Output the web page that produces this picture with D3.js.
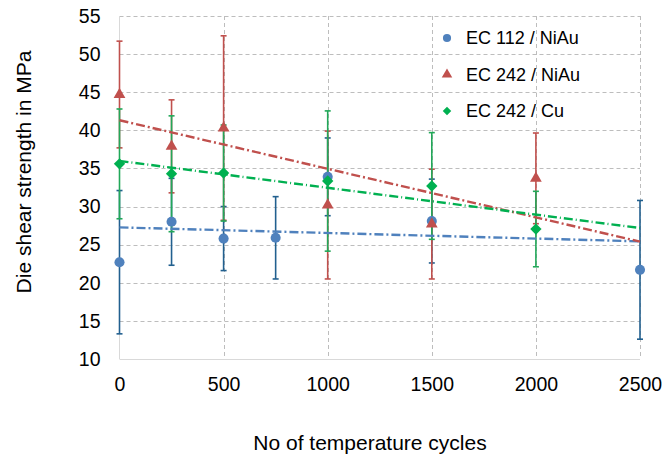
<!DOCTYPE html>
<html>
<head>
<meta charset="utf-8">
<script src="https://cdn.jsdelivr.net/npm/d3@7"></script>
<style>
  body { margin: 0; background: #fff; }
  svg { display: block; font-family: "Liberation Sans", Arial, sans-serif; }
</style>
</head>
<body>
<svg id="chart" width="664" height="459"></svg>
<script>
// cycles and mean shear strength (MPa) with error bars
var cycles112 = [0, 250, 500, 750, 1000, 1500, 2500];
var mean112 = [22.7, 28.0, 25.8, 25.9, 33.9, 28.1, 21.7];
var err112 = [9.4, 5.7, 4.2, 5.4, 5.1, 5.5, 9.1];

var cycles242 = [0, 250, 500, 1000, 1500, 2000];
var mean242Ni = [44.7, 37.9, 40.3, 30.2, 27.7, 33.7];
var err242Ni = [7.0, 6.1, 12.1, 9.7, 7.2, 5.95];
var mean242Cu = [35.6, 34.3, 34.4, 33.35, 32.7, 27.05];
var err242Cu = [7.2, 7.6, 6.3, 9.2, 7.0, 4.95];

var xTicks = [0, 500, 1000, 1500, 2000, 2500];
var yTicks = [10, 15, 20, 25, 30, 35, 40, 45, 50, 55];

var seriesNames = ["EC 112 / NiAu", "EC 242 / NiAu", "EC 242 / Cu"];

var series = [
  {name: seriesNames[0], x: cycles112, y: mean112, e: err112, color: "#4f81bd", errColor: "#22608f", symbol: "circle", dash: "9,3,2,3"},
  {name: seriesNames[1], x: cycles242, y: mean242Ni, e: err242Ni, color: "#c0504d", errColor: "#c0504d", symbol: "triangle", dash: "9,3,2,3"},
  {name: seriesNames[2], x: cycles242, y: mean242Cu, e: err242Cu, color: "#00b050", errColor: "#22a859", symbol: "diamond", dash: "9,3,1,3"}
];

var svg = d3.select("#chart");

var x = d3.scaleLinear().domain([0, 2500]).range([119.5, 640]);
var y = d3.scaleLinear().domain([10, 55]).range([359, 16]);

// grid
var grid = svg.append("g");
grid.selectAll("line.h")
  .data(yTicks.filter(function(d){ return d > 10; }))
  .enter().append("line")
  .attr("x1", x(0)).attr("x2", x(2500))
  .attr("y1", function(d){ return Math.round(y(d)) + 0.5; })
  .attr("y2", function(d){ return Math.round(y(d)) + 0.5; })
  .attr("stroke", "#bdbdbd").attr("stroke-width", 1).attr("stroke-dasharray", "4,3");
grid.selectAll("line.v")
  .data(xTicks.filter(function(d){ return d > 0; }))
  .enter().append("line")
  .attr("y1", y(55)).attr("y2", y(10))
  .attr("x1", function(d){ return Math.round(x(d)) + 0.5; })
  .attr("x2", function(d){ return Math.round(x(d)) + 0.5; })
  .attr("stroke", "#bdbdbd").attr("stroke-width", 1).attr("stroke-dasharray", "4,3");

// axes lines
svg.append("line").attr("x1", 119.5).attr("x2", 119.5).attr("y1", y(55)).attr("y2", y(10))
  .attr("stroke", "#d9d9d9").attr("stroke-width", 1);
svg.append("line").attr("x1", 119.5).attr("x2", x(2500)).attr("y1", 359.5).attr("y2", 359.5)
  .attr("stroke", "#d9d9d9").attr("stroke-width", 1);

var xAxis = svg.append("g").attr("transform", "translate(0,359)")
  .call(d3.axisBottom(x).tickValues(xTicks).tickFormat(d3.format("d")).tickSize(0).tickPadding(18));
var yAxis = svg.append("g").attr("transform", "translate(119.5,0)")
  .call(d3.axisLeft(y).tickValues(yTicks).tickFormat(d3.format("d")).tickSize(0).tickPadding(19));
[xAxis, yAxis].forEach(function(a){
  a.select(".domain").remove();
  a.selectAll("text").attr("fill", "#000").style("font-size", "19.5px")
    .style("font-family", "'Liberation Sans', Arial, sans-serif");
});

// axis titles
svg.append("text").attr("x", 370).attr("y", 450).attr("text-anchor", "middle")
  .style("font-size", "21px").text("No of temperature cycles");
svg.append("text").attr("transform", "translate(31,172) rotate(-90)").attr("text-anchor", "middle")
  .style("font-size", "21px").text("Die shear strength in MPa");

function symbolPath(type, size) {
  if (type === "circle") return d3.symbol().type(d3.symbolCircle).size(size)();
  if (type === "triangle") return d3.symbol().type(d3.symbolTriangle).size(size)();
  return d3.symbol().type(d3.symbolSquare).size(size)();
}
function symbolSize(type, legend) {
  if (type === "circle") return legend ? 52 : 80;
  if (type === "triangle") return legend ? 48 : 60;
  return legend ? 36 : 64;
}

function fit(xs, ys) {
  var mx = d3.mean(xs), my = d3.mean(ys), sxy = 0, sxx = 0;
  xs.forEach(function(v, i){ sxy += (v - mx) * (ys[i] - my); sxx += (v - mx) * (v - mx); });
  var b = sxy / sxx;
  return function(v){ return my + b * (v - mx); };
}

// error bars
series.forEach(function(s){
  var g = svg.append("g");
  s.x.forEach(function(cx, i){
    var px = x(cx), top = y(s.y[i] + s.e[i]), bot = y(s.y[i] - s.e[i]);
    g.append("line").attr("x1", px).attr("x2", px).attr("y1", top).attr("y2", bot)
      .attr("stroke", s.errColor).attr("stroke-width", 1.6);
    [top, bot].forEach(function(py){
      g.append("line").attr("x1", px - 3).attr("x2", px + 3).attr("y1", py).attr("y2", py)
        .attr("stroke", s.errColor).attr("stroke-width", 1.6);
    });
  });
});

// markers
series.forEach(function(s){
  svg.append("g").selectAll("path")
    .data(s.x.map(function(cx, i){ return [cx, s.y[i]]; }))
    .enter().append("path")
    .attr("d", symbolPath(s.symbol, symbolSize(s.symbol, false)))
    .attr("transform", function(d){
      return "translate(" + x(d[0]) + "," + y(d[1]) + ")" + (s.symbol === "diamond" ? " rotate(45)" : "");
    })
    .attr("fill", s.color);
});

// linear trend lines
series.forEach(function(s){
  var f = fit(s.x, s.y);
  svg.append("line")
    .attr("x1", x(0)).attr("y1", y(f(0)))
    .attr("x2", x(2500)).attr("y2", y(f(2500)))
    .attr("stroke", s.color).attr("stroke-width", 2.4)
    .attr("stroke-dasharray", s.dash);
});

// legend
var legend = svg.append("g");
series.forEach(function(s, i){
  var ly = 38 + i * 36.5;
  legend.append("path")
    .attr("d", symbolPath(s.symbol, symbolSize(s.symbol, true)))
    .attr("transform", "translate(447," + ly + ")" + (s.symbol === "diamond" ? " rotate(45)" : ""))
    .attr("fill", s.color);
  legend.append("text").attr("x", 466).attr("y", ly).attr("dy", "0.36em")
    .style("font-size", "18px").text(s.name);
});
</script>
</body>
</html>
